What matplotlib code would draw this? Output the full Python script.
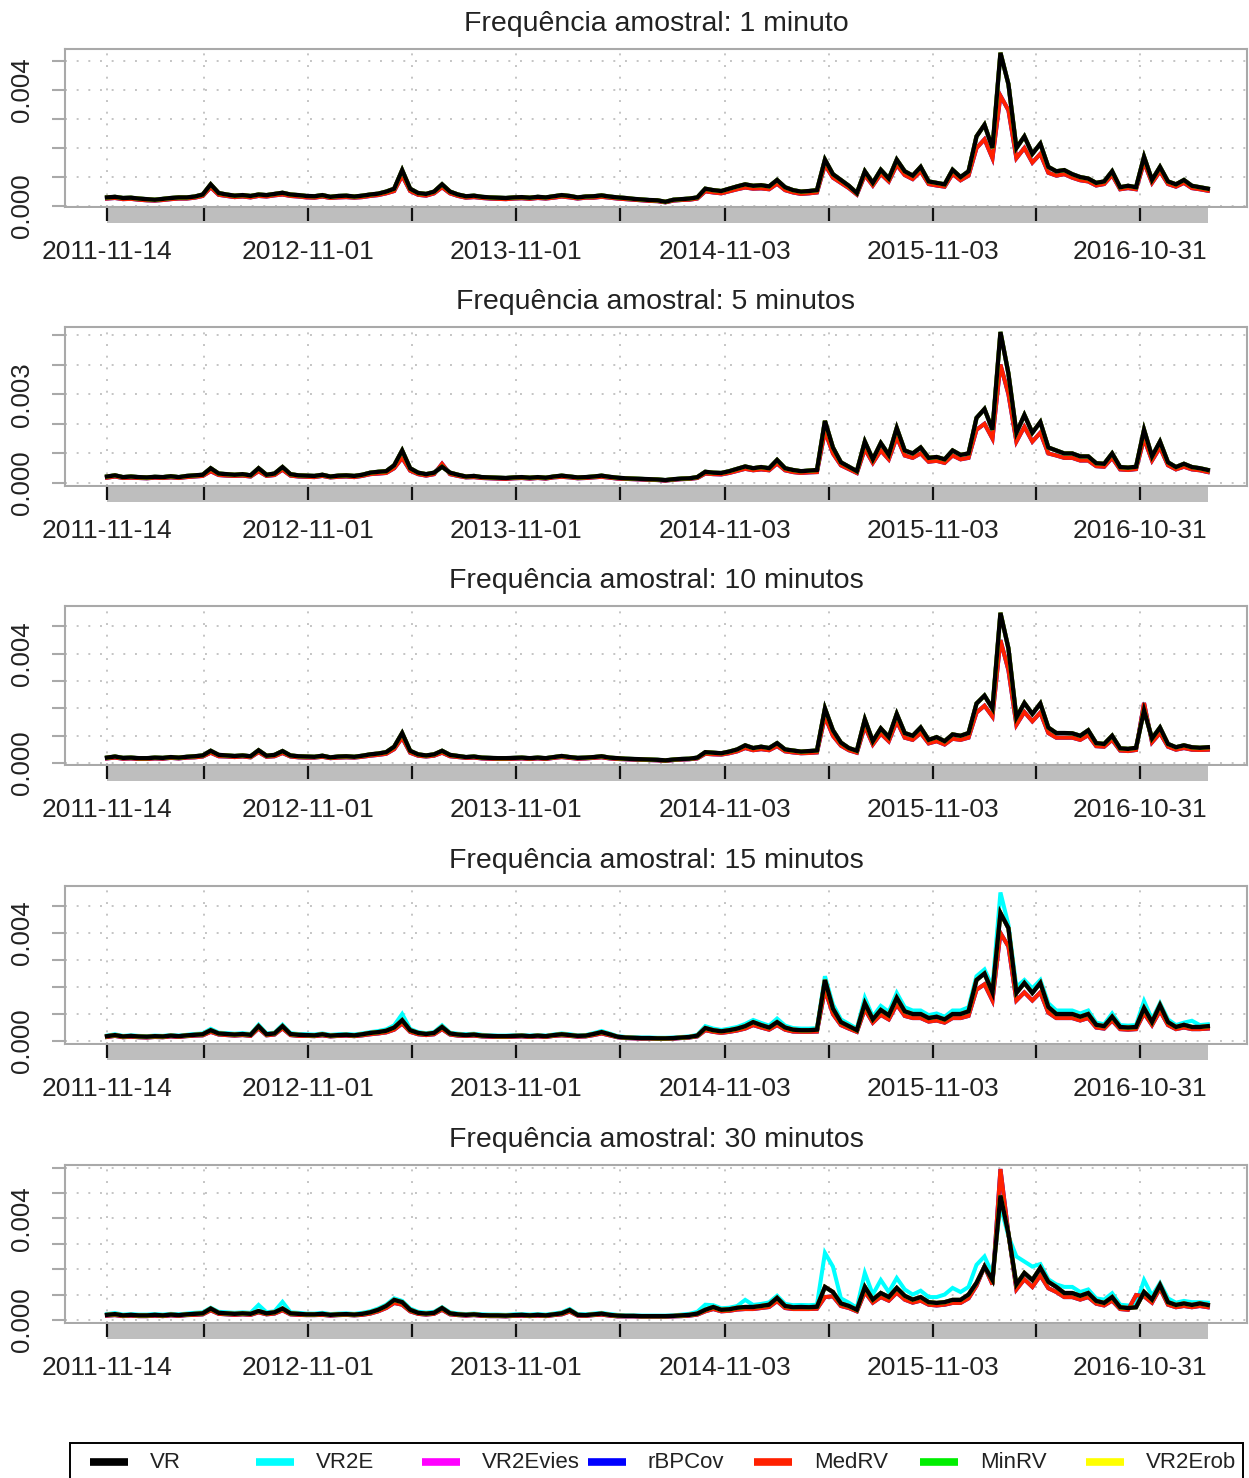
import numpy as np
import pandas as pd
import matplotlib
matplotlib.use("Agg")
import matplotlib.pyplot as plt
import matplotlib.dates as mdates
from matplotlib.lines import Line2D
from matplotlib.patches import Rectangle

plt.rcParams['font.family'] = ['Liberation Sans', 'DejaVu Sans']

# one reading every two weeks; values in units of 1e-4
dates = pd.date_range("2011-11-14", periods=139, freq="14D")

freqs = ["1 minuto", "5 minutos", "10 minutos", "15 minutos", "30 minutos"]
series_names = ["VR", "VR2E", "VR2Evies", "rBPCov", "MedRV", "MinRV", "VR2Erob"]
series_colors = ["#000000", "#00ffff", "#ff00ff", "#0000ff", "#ff2000", "#00ee00", "#ffff00"]

major_dates = ["2011-11-14", "2012-11-01", "2013-11-01", "2014-11-03", "2015-11-03", "2016-10-31"]
minor_dates = ["2012-05-02", "2013-05-02", "2014-05-02", "2015-05-04", "2016-05-02"]

# y range of each panel (1e-3) and which y ticks get a label
ylims = [(-0.03, 5.41), (-0.10, 5.27), (-0.07, 5.75), (-0.11, 5.74), (-0.12, 6.10)]
ylabeled = [[0.0, 0.004], [0.0, 0.003], [0.0, 0.004], [0.0, 0.004], [0.0, 0.004]]

# ---- 1 minuto
vr_1 = [3.0, 3.2, 2.8, 2.9, 2.6, 2.4, 2.2, 2.5, 2.8, 3.0, 3.0, 3.3,
        4.0, 7.5, 4.5,
        4.0, 3.6, 3.8, 3.5, 4.0, 3.8, 4.2, 4.6, 4.0, 3.8, 3.5, 3.4, 3.8, 3.2, 3.5, 3.6, 3.3, 3.6, 4.0, 4.3, 5.0,
        6.0, 12.4, 6.0, 4.5, 4.2, 5.0, 7.5, 5.0, 4.0,
        3.4, 3.6, 3.2, 3.0, 2.9, 2.8, 3.0, 3.1, 2.9, 3.2, 3.0, 3.4, 3.8, 3.5, 3.0,
        3.3, 3.4, 3.7, 3.3, 3.0, 2.8, 2.5, 2.3, 2.1, 2.0, 1.5, 2.2, 2.4, 2.6, 3.0,
        6.0, 5.5, 5.2, 6.0, 6.8, 7.5, 7.0, 7.2, 6.8, 9.0, 6.5, 5.5, 5.0, 5.2, 5.5,
        16, 11, 9, 7, 4.5, 12, 8, 12.5, 9.5, 16, 12, 10.5, 13.5, 8.5, 8, 7.5, 12.5, 10, 12,
        24, 28, 20, 52.8, 42, 20, 24, 18, 21.5, 13.5, 12, 12.4, 11, 10, 9.5, 8, 8.5, 12,
        6.5, 7, 6.5, 17, 9, 13.5, 8.5, 7.5, 9, 7, 6.5, 6.0]
medrv_1 = [2.6, 2.8, 2.4, 2.5, 2.2, 2.0, 1.9, 2.1, 2.4, 2.6, 2.6, 2.9,
           3.5, 6.5, 3.9,
           3.5, 3.1, 3.3, 3.0, 3.5, 3.3, 3.7, 4.0, 3.5, 3.3, 3.0, 2.9, 3.3, 2.8, 3.0, 3.1, 2.9, 3.1, 3.5, 3.8, 4.4,
           5.2, 10.5, 5.2, 3.9, 3.6, 4.4, 6.5, 4.4, 3.5,
           2.9, 3.1, 2.8, 2.6, 2.5, 2.4, 2.6, 2.7, 2.5, 2.8, 2.6, 2.9, 3.3, 3.0, 2.6,
           2.9, 2.9, 3.2, 2.9, 2.6, 2.4, 2.2, 2.0, 1.8, 1.7, 1.3, 1.9, 2.1, 2.2, 2.6,
           5.1, 4.7, 4.4, 5.1, 5.8, 6.4, 6.0, 6.1, 5.8, 7.7, 5.5, 4.7, 4.2, 4.4, 4.7,
           14.2, 9.8, 8.0, 6.2, 4.0, 10.7, 7.1, 11.1, 8.5, 14.2, 10.7, 9.3, 12.0, 7.6, 7.1, 6.7, 11.1, 8.9, 10.5,
           20, 23, 16.5, 38, 33, 16.5, 20, 15, 18, 11.5, 10.5, 11, 9.8, 8.9, 8.5, 7.1, 7.6, 10.7,
           5.8, 6.2, 5.8, 15.1, 8.0, 12.0, 7.6, 6.7, 8.0, 6.2, 5.8, 5.3]

# ---- 5 minutos
vr_2 = [2.2, 2.6, 2.0, 2.2, 2.0, 1.9, 2.1, 2.0, 2.3, 2.0, 2.4, 2.6,
        2.8, 5.0, 3.2,
        3.0, 2.8, 3.0, 2.6, 5.0, 2.8, 3.2, 5.4, 3.0, 2.6, 2.5, 2.4, 2.8, 2.2, 2.5, 2.6, 2.4, 2.8, 3.5, 3.8, 4.0,
        6.0, 11.0, 5.0, 3.5, 3.0, 3.5, 5.5, 3.5, 2.8,
        2.2, 2.4, 2.0, 1.9, 1.8, 1.7, 1.9, 2.0, 1.8, 2.0, 1.8, 2.2, 2.5, 2.2, 1.9,
        2.0, 2.2, 2.5, 2.1, 1.8, 1.6, 1.5, 1.4, 1.3, 1.2, 1.0, 1.3, 1.5, 1.6, 2.0,
        3.8, 3.5, 3.4, 4.0, 4.8, 5.6, 5.0, 5.4, 5.0, 7.8, 5.0, 4.4, 4.0, 4.2, 4.4,
        21, 12, 7, 5.5, 4.0, 14, 8, 13.5, 9.5, 18.6, 11, 10, 12, 8.5, 8.8, 8, 11, 9.5, 10,
        22, 25, 18, 51, 37, 17, 23, 17, 20.6, 12, 11, 10, 10, 9, 9, 6.7, 6.5, 10,
        5.4, 5.2, 5.5, 18, 9, 14, 7, 5.4, 6.5, 5.4, 5.0, 4.4]
medrv_2 = [1.8, 2.2, 1.7, 1.8, 1.7, 1.6, 1.8, 1.7, 1.9, 1.7, 2.0, 2.2,
           2.4, 4.0, 2.7,
           2.5, 2.4, 2.5, 2.2, 4.0, 2.4, 2.7, 4.5, 2.5, 2.2, 2.1, 2.0, 2.4, 1.9, 2.1, 2.2, 2.0, 2.4, 3.0, 3.2, 3.4,
           5.0, 8.5, 4.2, 3.0, 2.5, 3.0, 6.5, 3.0, 2.4,
           1.9, 2.0, 1.7, 1.6, 1.5, 1.4, 1.6, 1.7, 1.5, 1.7, 1.5, 1.9, 2.1, 1.9, 1.6,
           1.7, 1.9, 2.1, 1.8, 1.5, 1.4, 1.3, 1.2, 1.1, 1.0, 0.8, 1.1, 1.3, 1.4, 1.7,
           3.2, 3.0, 2.9, 3.4, 4.1, 4.8, 4.3, 4.6, 4.3, 6.6, 4.3, 3.7, 3.4, 3.6, 3.7,
           17.5, 10, 6, 4.7, 3.4, 11.5, 6.8, 11, 8, 15.5, 9.3, 8.5, 10, 7.2, 7.5, 6.8, 9.3, 8, 8.5,
           18, 20, 15, 40, 30, 14, 19, 14, 17, 10, 9.3, 8.5, 8.5, 7.6, 7.6, 5.7, 5.5, 8.5,
           4.6, 4.4, 4.7, 15, 7.6, 12, 6, 4.6, 5.5, 4.6, 4.3, 3.7]

# ---- 10 minutos
vr_3 = [2.0, 2.4, 1.9, 2.0, 1.8, 1.8, 2.0, 1.9, 2.2, 2.0, 2.3, 2.5,
        2.8, 4.5, 3.0,
        2.8, 2.6, 2.8, 2.5, 4.7, 2.7, 3.0, 4.4, 2.8, 2.5, 2.4, 2.3, 2.7, 2.1, 2.4, 2.5, 2.3, 2.7, 3.2, 3.5, 4.0,
        6.0, 11.0, 4.5, 3.2, 2.8, 3.2, 4.5, 3.0, 2.6,
        2.2, 2.4, 2.0, 1.9, 1.8, 1.8, 1.9, 2.0, 1.8, 2.0, 1.8, 2.2, 2.6, 2.2, 1.9,
        2.0, 2.2, 2.5, 2.0, 1.8, 1.6, 1.5, 1.4, 1.3, 1.2, 1.0, 1.3, 1.5, 1.6, 2.0,
        4.0, 3.8, 3.6, 4.2, 5.0, 6.5, 5.5, 6.0, 5.5, 7.3, 5.0, 4.6, 4.2, 4.4, 4.6,
        20, 12, 7.5, 5.5, 4.5, 16, 8, 12.7, 9.5, 18, 11, 10, 13, 8.5, 9.5, 8, 10.5, 10, 11,
        21.8, 24.7, 20, 55, 42, 16.7, 22, 18, 21.8, 13, 11, 11, 10.9, 10, 12, 7.3, 7.0, 10,
        5.4, 5.2, 5.6, 19.3, 9, 13, 7, 5.8, 6.5, 5.8, 5.6, 5.8]
medrv_3 = [1.7, 2.0, 1.6, 1.7, 1.5, 1.5, 1.7, 1.6, 1.9, 1.7, 2.0, 2.1,
           2.4, 3.8, 2.5,
           2.4, 2.2, 2.4, 2.1, 4.0, 2.3, 2.5, 3.7, 2.4, 2.1, 2.0, 2.0, 2.3, 1.8, 2.0, 2.1, 2.0, 2.3, 2.7, 3.0, 3.4,
           5.1, 9.3, 3.8, 2.7, 2.4, 2.7, 3.8, 2.5, 2.2,
           1.9, 2.0, 1.7, 1.6, 1.5, 1.5, 1.6, 1.7, 1.5, 1.7, 1.5, 1.9, 2.2, 1.9, 1.6,
           1.7, 1.9, 2.1, 1.7, 1.5, 1.4, 1.3, 1.2, 1.1, 1.0, 0.8, 1.1, 1.3, 1.4, 1.7,
           3.4, 3.2, 3.1, 3.6, 4.3, 5.5, 4.7, 5.1, 4.7, 6.2, 4.3, 3.9, 3.6, 3.7, 3.9,
           17, 10, 6.4, 4.7, 3.8, 13.5, 6.8, 10.8, 8, 15.3, 9.3, 8.5, 11, 7.2, 8, 6.8, 8.9, 8.5, 9.3,
           18.5, 21, 17, 45, 34, 14, 18.7, 15.3, 18.5, 11, 9.3, 9.3, 9.3, 8.5, 10.2, 6.2, 6, 8.5,
           4.6, 4.4, 4.8, 22, 7.6, 11, 6, 4.9, 5.5, 4.9, 4.8, 4.9]

# ---- 15 minutos
vr_4 = [1.8, 2.2, 1.7, 1.9, 1.7, 1.6, 1.8, 1.7, 2.0, 1.8, 2.1, 2.3,
        2.5, 4.0, 2.8,
        2.6, 2.4, 2.6, 2.3, 5.5, 2.5, 2.8, 5.5, 2.6, 2.3, 2.2, 2.1, 2.5, 2.0, 2.2, 2.3, 2.1, 2.5, 3.0, 3.3, 3.8,
        5.0, 7.7, 4.0, 3.0, 2.6, 3.0, 5.2, 2.8, 2.4,
        2.2, 2.4, 2.0, 1.9, 1.8, 1.8, 1.9, 2.0, 1.8, 2.0, 1.8, 2.2, 2.5, 2.2, 1.9,
        2.0, 2.6, 3.3, 2.5, 1.6, 1.3, 1.2, 1.1, 1.1, 1.0, 1.0, 1.1, 1.3, 1.5, 2.0,
        4.8, 4.0, 3.6, 4.0, 4.6, 5.5, 7.0, 5.9, 5.0, 7.0, 5.0, 4.2, 4.0, 4.0, 4.2,
        22.6, 12, 7, 5.5, 4.0, 14, 8, 11.5, 9.5, 16, 11, 10, 10, 8.5, 9, 8, 10, 10, 11,
        22.6, 25, 18, 47.4, 41.8, 17.8, 21.5, 17.8, 21.5, 12.6, 10, 10, 10, 9, 10, 6, 5.5, 9,
        5.2, 5.0, 5.2, 12.2, 7, 13.3, 7, 5.2, 6, 5.2, 5.2, 5.5]
medrv_4 = [1.5, 1.9, 1.4, 1.6, 1.4, 1.3, 1.5, 1.4, 1.7, 1.5, 1.8, 2.0,
           2.1, 3.4, 2.4,
           2.2, 2.0, 2.2, 1.9, 4.7, 2.1, 2.4, 4.7, 2.2, 1.9, 1.9, 1.8, 2.1, 1.7, 1.9, 2.0, 1.8, 2.1, 2.5, 2.8, 3.2,
           4.2, 6.5, 3.4, 2.5, 2.2, 2.5, 4.4, 2.4, 2.0,
           1.9, 2.0, 1.7, 1.6, 1.5, 1.5, 1.6, 1.7, 1.5, 1.7, 1.5, 1.9, 2.1, 1.9, 1.6,
           1.7, 2.2, 2.8, 2.1, 1.4, 1.1, 1.0, 0.9, 0.9, 0.8, 0.8, 0.9, 1.1, 1.3, 1.7,
           4.0, 3.4, 3.0, 3.4, 3.9, 4.6, 5.9, 5.0, 4.2, 5.9, 4.2, 3.5, 3.4, 3.4, 3.5,
           19, 10, 5.9, 4.6, 3.4, 11.8, 6.8, 9.7, 8, 13.5, 9.3, 8.5, 8.5, 7.2, 7.6, 6.8, 8.5, 8.5, 9.3,
           19, 21, 15, 40, 35, 15, 18, 15, 18, 10.5, 8.5, 8.5, 8.5, 7.6, 8.5, 5, 4.6, 7.6,
           4.4, 4.2, 4.4, 10.3, 5.9, 11.2, 5.9, 4.4, 5, 4.4, 4.4, 4.6]
vr2e_4 = [2.0, 2.5, 1.9, 2.1, 1.9, 1.8, 2.0, 1.9, 2.2, 2.0, 2.3, 2.6,
          2.8, 4.5, 3.1,
          2.9, 2.7, 2.9, 2.6, 6.0, 2.8, 3.1, 6.0, 2.9, 2.6, 2.5, 2.4, 2.8, 2.3, 2.5, 2.6, 2.4, 2.8, 3.3, 3.7, 4.3,
          5.8, 10, 4.5, 3.3, 2.9, 3.3, 5.8, 3.1, 2.7,
          2.5, 2.7, 2.3, 2.1, 2.0, 2.0, 2.1, 2.2, 2.0, 2.2, 2.0, 2.4, 2.8, 2.5, 2.1,
          2.2, 2.9, 3.7, 2.8, 1.8, 1.5, 1.4, 1.3, 1.3, 1.2, 1.2, 1.3, 1.5, 1.7, 2.3,
          5.5, 4.6, 4.1, 4.6, 5.2, 6.3, 7.8, 6.7, 5.7, 8.3, 5.7, 4.8, 4.6, 4.6, 4.8,
          24, 13.5, 8, 6.3, 4.6, 16, 9, 13, 10.8, 17.8, 12.5, 11.3, 11.3, 9.6, 10.2, 9, 11.3, 11.3, 12.5,
          24, 26.5, 20, 55, 43, 20, 22.6, 19.5, 22.6, 14, 11.3, 11.3, 11.3, 10.2, 11.3, 6.8, 6.2, 10.2,
          5.9, 5.7, 5.9, 14.8, 8, 14, 8, 5.9, 6.8, 7.5, 5.9, 6.2]

# ---- 30 minutos
vr_5 = [2.0, 2.3, 1.8, 2.0, 1.8, 1.8, 2.0, 1.8, 2.1, 1.9, 2.2, 2.4,
        2.6, 4.5, 2.8,
        2.6, 2.4, 2.6, 2.4, 3.5, 2.6, 3.0, 4.5, 2.6, 2.4, 2.2, 2.2, 2.4, 2.0, 2.2, 2.3, 2.1, 2.4, 3.0, 4.0, 5.5,
        7.9, 7.0, 4.0, 2.8, 2.5, 2.8, 4.7, 2.6, 2.2,
        2.0, 2.2, 1.9, 1.8, 1.8, 1.7, 1.9, 2.0, 1.8, 2.0, 1.8, 2.2, 2.6, 3.9, 2.0,
        1.9, 2.2, 2.5, 2.0, 1.7, 1.6, 1.6, 1.5, 1.5, 1.5, 1.5, 1.6, 1.8, 2.0, 2.5,
        4.0, 5.1, 4.0, 4.2, 4.8, 5.1, 5.1, 5.5, 6.0, 8.7, 5.5, 5.0, 5.1, 5.0, 5.2,
        13, 11, 6.5, 5.5, 4.0, 13, 8, 10.6, 9, 12.6, 9.5, 8, 9, 7, 6.7, 7, 7.9, 7.9, 10,
        14.6, 21, 15.7, 49, 34, 14, 18.5, 15.7, 20.5, 15, 13, 10.6, 10.6, 9.5, 10.6, 7.5, 6.7, 9,
        5, 4.7, 5, 11, 8, 13.8, 7, 5.9, 6.5, 5.9, 6.5, 5.9]
medrv_5 = [1.7, 1.9, 1.5, 1.7, 1.5, 1.5, 1.7, 1.5, 1.8, 1.6, 1.9, 2.0,
           2.2, 3.8, 2.4,
           2.2, 2.0, 2.2, 2.0, 3.0, 2.2, 2.5, 3.8, 2.2, 2.0, 1.9, 1.9, 2.0, 1.7, 1.9, 2.0, 1.8, 2.0, 2.5, 3.4, 4.7,
           6.7, 6.0, 3.4, 2.4, 2.1, 2.4, 4.0, 2.2, 1.9,
           1.7, 1.9, 1.6, 1.5, 1.5, 1.4, 1.6, 1.7, 1.5, 1.7, 1.5, 1.9, 2.2, 3.3, 1.7,
           1.6, 1.9, 2.1, 1.7, 1.4, 1.4, 1.4, 1.3, 1.3, 1.3, 1.3, 1.4, 1.5, 1.7, 2.1,
           3.4, 4.3, 3.4, 3.6, 4.1, 4.3, 4.3, 4.7, 5.1, 7.4, 4.7, 4.3, 4.3, 4.3, 4.4,
           9, 9.3, 5.5, 4.7, 3.4, 11, 6.8, 9, 7.6, 10.7, 8, 6.8, 7.6, 6, 5.7, 6, 6.7, 6.7, 8.5,
           13.5, 21, 14, 59.4, 34, 12, 16, 13, 17.5, 12.5, 11, 9, 9, 8, 9, 6.4, 5.7, 7.6,
           4.3, 4.0, 9.8, 9.3, 6.8, 12.5, 6, 5, 5.5, 5, 5.5, 5]
vr2e_5 = [2.3, 2.7, 2.1, 2.3, 2.1, 2.1, 2.3, 2.1, 2.4, 2.2, 2.5, 2.8,
          3.0, 4.8, 3.2,
          3.0, 2.8, 3.0, 2.8, 5.9, 3.0, 3.4, 7.1, 3.0, 2.8, 2.5, 2.5, 2.8, 2.3, 2.5, 2.6, 2.4, 2.8, 3.4, 4.5, 6.0,
          8.5, 7.5, 4.5, 3.2, 2.9, 3.2, 5.0, 3.0, 2.5,
          2.3, 2.5, 2.2, 2.1, 2.1, 2.0, 2.2, 2.3, 2.1, 2.3, 2.1, 2.5, 3.0, 4.3, 2.3,
          2.2, 2.5, 2.8, 2.3, 2.0, 1.8, 1.8, 1.7, 1.7, 1.7, 1.7, 1.8, 2.1, 2.4, 3.2,
          6.0, 5.8, 4.6, 4.8, 5.5, 7.9, 5.9, 6.3, 6.9, 9.5, 6.3, 5.8, 5.9, 5.8, 6.0,
          26.4, 21, 8.5, 6.8, 4.8, 18.5, 10, 15.7, 11, 16.5, 12, 10, 11.5, 9, 9, 10, 12.6, 11, 13,
          21.7, 25, 18, 45, 33, 25, 23, 21, 22, 16, 14, 13, 13, 11, 12, 8.5, 8, 10.5,
          6, 5.7, 6, 15.7, 9.5, 14.5, 8.5, 6.8, 7.5, 7, 7, 6.8]

# series that cannot be told apart from VR (or from MedRV) in the picture reuse those readings
vr2e_1, vr2e_2, vr2e_3 = vr_1, vr_2, vr_3
vr2evies = [vr_1, vr_2, vr_3, vr_4, vr_5]
rbpcov = [medrv_1, medrv_2, medrv_3, medrv_4, medrv_5]
minrv = [vr_1, vr_2, vr_3, vr_4, vr_5]
vr2erob = [vr_1, vr_2, vr_3, vr_4, vr_5]

panels = []
for k, (vr, vr2e, medrv) in enumerate([(vr_1, vr2e_1, medrv_1), (vr_2, vr2e_2, medrv_2),
                                       (vr_3, vr2e_3, medrv_3), (vr_4, vr2e_4, medrv_4),
                                       (vr_5, vr2e_5, medrv_5)]):
    panels.append([vr, vr2e, vr2evies[k], rbpcov[k], medrv, minrv[k], vr2erob[k]])

W, H = 1249, 1478
fig = plt.figure(figsize=(W / 100, H / 100), dpi=100)

boxes = [(49, 207), (327, 486), (606, 765), (886, 1044), (1165, 1323)]
left, right = 65, 1247
x0 = mdates.date2num(dates[0])
xlim = (x0 - 73.7, x0 + 2000.7)
tick_dates = pd.to_datetime(major_dates + minor_dates)
box_grey = "#a9a9a9"

for k in range(5):
    top, bot = boxes[k]
    ax = fig.add_axes([left / W, 1 - bot / H, (right - left) / W, (bot - top) / H])
    data = panels[k]
    # coloured series first, VR on top
    for j in [1, 2, 3, 4, 5, 6, 0]:
        ax.plot(dates, np.array(data[j]) * 1e-4, color=series_colors[j],
                lw=3.1 if j == 0 else 2.9, solid_joinstyle="miter")
    lo, hi = ylims[k]
    ax.set_ylim(lo * 1e-3, hi * 1e-3)
    ax.set_xlim(xlim)
    yt = np.arange(0, hi * 1e-3, 0.001)
    ax.set_yticks(yt)
    ax.set_yticklabels(["%.3f" % v if any(abs(v - l) < 1e-9 for l in ylabeled[k]) else "" for v in yt],
                       rotation=90, va="center", fontsize=18.5, color="#222222")
    ax.tick_params(axis="y", length=9.5, width=1.5, color=box_grey, pad=13)
    ax.set_xticks(tick_dates)
    ax.tick_params(axis="x", length=0, labelbottom=False)
    ax.grid(True, color="#c4c4c4", linestyle=(0, (1, 5)), lw=1.4)
    ax.set_axisbelow(True)
    for s in ax.spines.values():
        s.set_color(box_grey)
        s.set_linewidth(1.5)
    fig.text(656 / W, 1 - (top - 25) / H, "Frequência amostral: " + freqs[k],
             ha="center", va="center", fontsize=20.5, color="#222222")

    # grey time bar under the panel
    axb = fig.add_axes([left / W, 1 - (bot + 16) / H, (right - left) / W, 15 / H])
    axb.set_xlim(xlim)
    axb.set_ylim(0, 1)
    axb.fill_between([dates[0], dates[-1]], 0, 1, color="#bebebe", lw=0)
    axb.vlines(tick_dates, 0.12, 1, color="#111111", lw=1.6)
    axb.set_xticks(pd.to_datetime(major_dates))
    axb.set_xticklabels(major_dates, fontsize=19, color="#222222")
    axb.tick_params(axis="x", length=0, pad=12)
    axb.set_yticks([])
    for s in axb.spines.values():
        s.set_visible(False)

# legend box along the bottom edge
fig.add_artist(Rectangle((70 / W, -0.02), (1243 - 70) / W, 0.02 + 1 - 1443 / H,
                         transform=fig.transFigure, fill=False, ec="black", lw=1.4))
for j, name in enumerate(series_names):
    xs = 90 + 166 * j
    fig.add_artist(Line2D([xs / W, (xs + 38) / W], [1 - 1462 / H] * 2, transform=fig.transFigure,
                          color=series_colors[j], lw=5.5, solid_capstyle="butt"))
    fig.text((xs + 60) / W, 1 - 1462 / H, name, ha="left", va="center", fontsize=16, color="#222222")

fig.savefig("out.png", dpi=100)
